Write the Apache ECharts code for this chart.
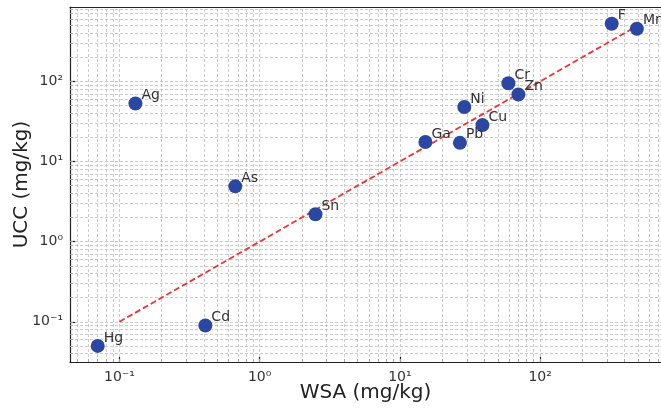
<!DOCTYPE html>
<html>
<head>
<meta charset="utf-8">
<script src="https://cdn.jsdelivr.net/npm/echarts@6/dist/echarts.min.js"></script>
<style>
  html, body { margin: 0; padding: 0; background: #fff; }
  #chart { width: 661px; height: 408px; }
</style>
</head>
<body>
<div id="chart"></div>
<script>
// element names and concentrations (mg/kg)
var elements = ['Hg', 'Cd', 'Ag', 'As', 'Sn', 'Ga', 'Pb', 'Cu', 'Ni', 'Cr', 'Zn', 'F', 'Mn'];
var wsa = [0.07, 0.41, 0.13, 0.67, 2.5, 15.2, 26.8, 38.8, 28.8, 59.4, 70, 324, 490];
var ucc = [0.05, 0.09, 53, 4.9, 2.2, 17.5, 17.1, 28.5, 48, 95, 68.7, 523, 453];

// 1:1 reference line
var refLine = [[0.1, 0.1], [490, 490]];

// axis ranges and gridline values
var xRange = [0.0444, 728];
var yRange = [0.0315, 848];
var xMajor = [0.1, 1, 10, 100];
var yMajor = [0.1, 1, 10, 100];
var xMinor = [0.05, 0.06, 0.07, 0.08, 0.09, 0.2, 0.3, 0.4, 0.5, 0.6, 0.7, 0.8, 0.9,
              2, 3, 4, 5, 6, 7, 8, 9, 20, 30, 40, 50, 60, 70, 80, 90, 200, 300, 400, 500, 600, 700];
var yMinor = [0.04, 0.05, 0.06, 0.07, 0.08, 0.09, 0.2, 0.3, 0.4, 0.5, 0.6, 0.7, 0.8, 0.9,
              2, 3, 4, 5, 6, 7, 8, 9, 20, 30, 40, 50, 60, 70, 80, 90, 200, 300, 400, 500, 600, 700, 800];

var sup = { '-': '\u207B', '0': '\u2070', '1': '\u00B9', '2': '\u00B2', '3': '\u00B3' };
function powLabel(v) {
    var e = Math.log10(v);
    if (Math.abs(e - Math.round(e)) > 1e-6) return '';
    var s = String(Math.round(e)).split('').map(function (c) { return sup[c]; }).join('');
    return '10' + s;
}

var points = elements.map(function (name, i) {
    return { name: name, value: [wsa[i], ucc[i]] };
});

var gridLines = [];
xMajor.concat(xMinor).forEach(function (v) { gridLines.push({ xAxis: v }); });
yMajor.concat(yMinor).forEach(function (v) { gridLines.push({ yAxis: v }); });

var font = 'DejaVu Sans';
var lineStyle = { color: '#222', width: 1.2 };

var chart = echarts.init(document.getElementById('chart'));
var option = {
    animation: false,
    textStyle: { fontFamily: font },
    grid: { left: 70, right: 0, top: 7, bottom: 46, outerBoundsMode: 'none', containLabel: false },
    xAxis: [{
        type: 'log',
        min: xRange[0],
        max: xRange[1],
        name: 'WSA (mg/kg)',
        nameLocation: 'middle',
        nameGap: 21,
        nameMoveOverlap: false,
        nameTextStyle: { fontSize: 20, color: '#222', fontFamily: font },
        axisLine: { lineStyle: lineStyle },
        axisTick: { inside: true, length: 5, lineStyle: lineStyle, customValues: xMajor },
        axisLabel: { fontSize: 14, color: '#333', margin: 8, customValues: xMajor, formatter: powLabel },
        splitLine: { show: false }
    }, {
        type: 'log',
        min: xRange[0],
        max: xRange[1],
        position: 'bottom',
        axisLine: { show: false },
        axisTick: { inside: true, length: 3, lineStyle: { color: '#222', width: 0.8 }, customValues: xMinor },
        axisLabel: { show: false },
        splitLine: { show: false }
    }, {
        type: 'log',
        min: xRange[0],
        max: xRange[1],
        position: 'top',
        axisLine: { lineStyle: lineStyle },
        axisTick: { show: false },
        axisLabel: { show: false },
        splitLine: { show: false }
    }],
    yAxis: [{
        type: 'log',
        min: yRange[0],
        max: yRange[1],
        name: 'UCC (mg/kg)',
        nameLocation: 'middle',
        nameGap: 38,
        nameMoveOverlap: false,
        nameTextStyle: { fontSize: 20, color: '#222', fontFamily: font },
        axisLine: { lineStyle: lineStyle },
        axisTick: { inside: true, length: 5, lineStyle: lineStyle, customValues: yMajor },
        axisLabel: { fontSize: 14, color: '#333', margin: 7, customValues: yMajor, formatter: powLabel },
        splitLine: { show: false }
    }, {
        type: 'log',
        min: yRange[0],
        max: yRange[1],
        position: 'left',
        axisLine: { show: false },
        axisTick: { inside: true, length: 3, lineStyle: { color: '#222', width: 0.8 }, customValues: yMinor },
        axisLabel: { show: false },
        splitLine: { show: false }
    }],
    series: [{
        // grid lines, major and minor
        type: 'line',
        data: [],
        silent: true,
        zlevel: 0,
        markLine: {
            silent: true,
            symbol: ['none', 'none'],
            label: { show: false },
            lineStyle: { color: '#bfbfbf', width: 0.8, type: [3, 2] },
            emphasis: { disabled: true },
            data: gridLines
        }
    }, {
        type: 'line',
        data: refLine,
        showSymbol: false,
        symbol: 'none',
        zlevel: 1,
        z: 2,
        lineStyle: { color: '#ee3333', width: 1.8, type: [6, 3] }
    }, {
        type: 'scatter',
        data: points,
        symbolSize: 14,
        zlevel: 1,
        z: 3,
        itemStyle: { color: '#2c47a1', opacity: 1 },
        label: {
            show: true,
            position: 'right',
            distance: 0,
            offset: [-1, -8],
            formatter: '{b}',
            fontSize: 14,
            color: '#333',
            fontFamily: font
        }
    }]
};
chart.setOption(option);
</script>
</body>
</html>
